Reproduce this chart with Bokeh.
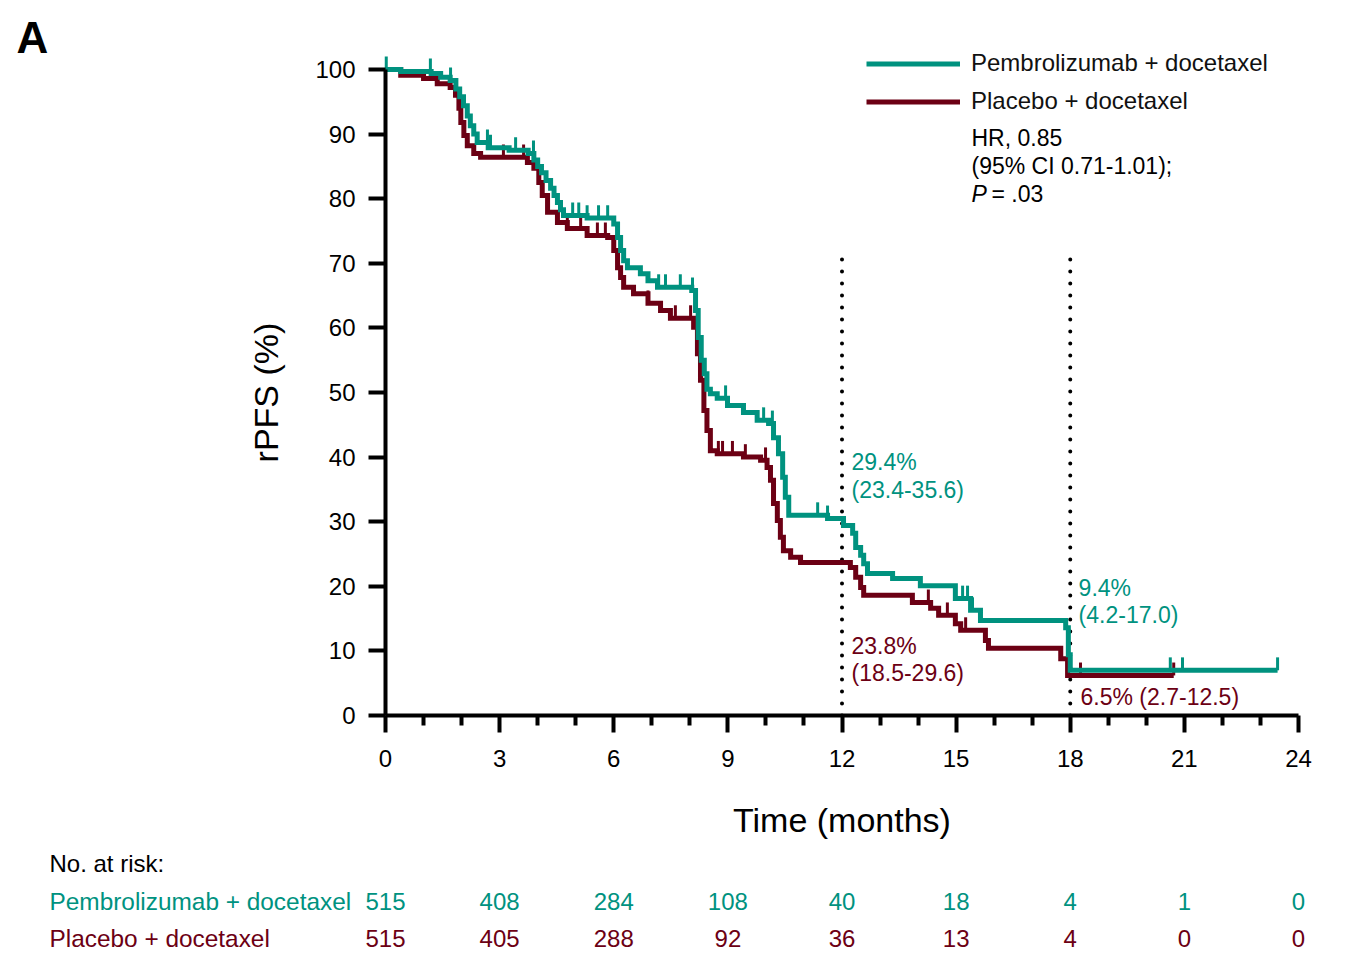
import numpy as np
from bokeh.plotting import figure
from bokeh.models import (FixedTicker, ColumnDataSource, Legend, LegendItem, Range1d)
from bokeh.embed import file_html
from bokeh.resources import INLINE
from bokeh.core.properties import value

TEAL = "#00927F"
MAROON = "#6C0014"

# ---- data ----
pembro_t = [0, 0.4, 1.2, 1.45, 1.7, 1.85, 1.95, 2.05, 2.15, 2.23, 2.32, 2.41, 2.7, 3.25, 3.75,
            3.9, 4.0, 4.1, 4.22, 4.34, 4.43, 4.52, 4.6, 4.68, 5.3, 6.0, 6.1, 6.18, 6.26, 6.36,
            6.7, 6.9, 7.15, 8.05, 8.15, 8.22, 8.3, 8.38, 8.45, 8.54, 8.72, 8.99, 9.41, 9.77, 10.07,
            10.2, 10.33, 10.44, 10.51, 10.6, 11.62, 12.04, 12.28, 12.36, 12.49, 12.57, 12.67, 13.33,
            14.06, 14.98, 15.38, 15.64, 17.88, 17.95, 18.0]
pembro_s = [100, 99.7, 99.4, 98.8, 98.3, 97.0, 95.8, 94.4, 92.8, 91.3, 90.0, 88.7, 87.9, 87.5, 87.0,
            86.0, 85.0, 84.0, 82.8, 81.6, 80.5, 79.4, 78.3, 77.4, 77.0, 76.1, 74.0, 72.0, 70.4, 69.3,
            68.4, 67.3, 66.3, 65.8, 62.7, 58.5, 55.0, 52.9, 50.5, 49.8, 49.1, 48.0, 46.9, 45.7, 45.2,
            43.0, 40.5, 36.9, 33.8, 31.0, 30.5, 29.4, 28.2, 26.0, 24.8, 23.5, 22.0, 21.2,
            20.1, 18.1, 16.3, 14.7, 13.6, 9.4, 7.0]
pembro_end = 23.45
pembro_censor = [0.02, 1.18, 1.71, 2.68, 2.76, 3.42, 3.89, 4.92, 5.08, 5.3, 5.6, 5.84, 7.18, 7.36,
                 7.75, 8.07, 8.94, 9.94, 10.17, 11.36, 11.62, 15.17, 15.3, 15.43, 20.63, 20.95, 23.45]

placebo_t = [0, 0.4, 1.0, 1.36, 1.7, 1.84, 1.93, 1.98, 2.06, 2.15, 2.32, 2.5, 3.73, 3.9, 4.03,
             4.12, 4.26, 4.52, 4.78, 5.3, 5.84, 6.0, 6.1, 6.18, 6.26, 6.52, 6.9, 7.23, 7.49, 8.1,
             8.2, 8.28, 8.37, 8.45, 8.54, 8.72, 9.41, 9.86, 10.03, 10.12, 10.2, 10.3, 10.38, 10.46,
             10.65, 10.91, 12.22, 12.36, 12.49, 12.57, 13.85, 14.33, 14.54, 14.98, 15.12, 15.77,
             15.85, 17.75, 17.93]
placebo_s = [100, 99.1, 98.6, 97.8, 97.2, 96.0, 94.0, 91.8, 89.8, 88.2, 87.0, 86.4, 85.6, 84.7, 82.5,
             80.5, 77.9, 76.3, 75.4, 74.3, 74.0, 72.0, 69.3, 67.8, 66.3, 65.3, 63.8, 62.7, 61.5, 60.1,
             56.0, 51.9, 47.2, 44.1, 41.0, 40.5, 40.0, 39.5, 38.4, 36.4, 32.8, 30.2, 27.6, 25.5,
             24.5, 23.7, 22.9, 21.4, 19.8, 18.6, 17.5, 16.6, 15.5, 14.2, 13.2, 11.6,
             10.4, 8.8, 6.2]
placebo_end = 20.72
placebo_censor = [3.1, 3.63, 4.78, 5.13, 5.57, 5.78, 6.9, 7.62, 8.02, 8.75, 8.86, 9.12, 9.46, 9.99,
                  14.27, 14.77, 15.25, 18.27, 20.72]

x_ticks = [0, 3, 6, 9, 12, 15, 18, 21, 24]
x_minor = [m for m in range(25) if m % 3 != 0]
y_ticks = [0, 10, 20, 30, 40, 50, 60, 70, 80, 90, 100]

risk_times = [0, 3, 6, 9, 12, 15, 18, 21, 24]
risk_pembro = [515, 408, 284, 108, 40, 18, 4, 1, 0]
risk_placebo = [515, 405, 288, 92, 36, 13, 4, 0, 0]

landmarks = [12, 18]
landmark_top = 70.7
censor_len = 2.0

names = ["Pembrolizumab + docetaxel", "Placebo + docetaxel"]

FONT = "Liberation Sans"

# ---- layout geometry (pixels on the canvas) ----
W, H = 1356, 962
X0_PX, X24_PX = 385, 1298      # where 0 and 24 months sit
Y0_PX, Y100_PX = 715, 69       # where 0 % and 100 % sit
sx = (X24_PX - X0_PX) / 24.0
sy = (Y0_PX - Y100_PX) / 100.0


def tx(px):
    return (px - X0_PX) / sx


def ty(py):
    return (Y0_PX - py) / sy


p = figure(width=W, height=H, x_range=Range1d(tx(0), tx(W)), y_range=Range1d(ty(H), ty(0)),
           output_backend="svg", toolbar_location=None,
           min_border_left=0, min_border_right=0, min_border_top=0, min_border_bottom=0)
p.outline_line_color = None
p.xgrid.visible = False
p.ygrid.visible = False
p.background_fill_color = "white"
p.border_fill_color = "white"

# axes
for ax in (p.xaxis[0], p.yaxis[0]):
    ax.fixed_location = 0
    ax.axis_line_width = 4
    ax.axis_line_color = "black"
    ax.major_tick_line_width = 4
    ax.major_tick_line_color = "black"
    ax.major_tick_out = 17
    ax.major_tick_in = 0
    ax.minor_tick_line_width = 4
    ax.minor_tick_line_color = "black"
    ax.minor_tick_out = 10
    ax.minor_tick_in = 0
    ax.major_label_text_font = FONT
    ax.major_label_text_font_size = "24px"
    ax.major_label_text_color = "black"
    ax.axis_label_text_font = FONT
    ax.axis_label_text_font_size = "34px"
    ax.axis_label_text_font_style = "normal"
    ax.axis_label_text_color = "black"

p.xaxis.ticker = FixedTicker(ticks=x_ticks, minor_ticks=x_minor)
p.yaxis.ticker = FixedTicker(ticks=y_ticks)
p.yaxis.minor_tick_line_color = None
p.xaxis.bounds = (0, 24)
p.yaxis.bounds = (0, 100)
p.xaxis.axis_label = "Time (months)"
p.yaxis.axis_label = "rPFS (%)"
p.xaxis.major_label_standoff = 17
p.yaxis.major_label_standoff = 13
p.xaxis.axis_label_standoff = 31
p.yaxis.axis_label_standoff = 27

# landmark dotted lines
p.segment(x0=landmarks, y0=[0] * len(landmarks), x1=landmarks, y1=[landmark_top] * len(landmarks),
          line_color="black", line_width=4, line_dash="0 12", line_cap="round")


def curve(ts, ss, end):
    return list(ts) + [end], list(ss) + [ss[-1]]


def surv_at(ts, ss, c):
    idx = np.searchsorted(np.array(ts), np.array(c), side="right") - 1
    return np.array(ss)[idx]


xs_pl, ys_pl = curve(placebo_t, placebo_s, placebo_end)
xs_pe, ys_pe = curve(pembro_t, pembro_s, pembro_end)

r_pl = p.step(xs_pl, ys_pl, mode="after", line_color=MAROON, line_width=5, line_join="miter")
sp = surv_at(placebo_t, placebo_s, placebo_censor)
p.segment(x0=placebo_censor, y0=sp, x1=placebo_censor, y1=sp + censor_len,
          line_color=MAROON, line_width=3)

r_pe = p.step(xs_pe, ys_pe, mode="after", line_color=TEAL, line_width=5, line_join="miter")
se = surv_at(pembro_t, pembro_s, pembro_censor)
p.segment(x0=pembro_censor, y0=se, x1=pembro_censor, y1=se + censor_len,
          line_color=TEAL, line_width=3)

# legend (location measured from the frame's bottom-left corner)
legend = Legend(items=[LegendItem(label=names[0], renderers=[r_pe]),
                       LegendItem(label=names[1], renderers=[r_pl])],
                location=(866, H - 115), glyph_width=94, glyph_height=27, label_height=27,
                spacing=10, label_standoff=11, padding=0, margin=0,
                border_line_alpha=0, background_fill_alpha=0,
                label_text_font=FONT, label_text_font_size="24px", label_text_color="#111111")
p.add_layout(legend)


def txt(x, y, text, color="black", size="23px", style="normal", align="left"):
    p.text(x=[x], y=[y], text=[text], text_color=color, text_font=value(FONT),
           text_font_size=size, text_font_style=style, text_align=align,
           text_baseline="middle")


# HR text
txt(tx(971), ty(137), "HR, 0.85")
txt(tx(971), ty(165), "(95% CI 0.71-1.01);")
txt(tx(971), ty(193), "P", style="italic")
txt(tx(991), ty(193), "= .03")

# landmark annotations
txt(12.25, ty(461), "29.4%", TEAL)
txt(12.25, ty(489), "(23.4-35.6)", TEAL)
txt(12.25, ty(645), "23.8%", MAROON)
txt(12.25, ty(672), "(18.5-29.6)", MAROON)
txt(18.22, ty(587), "9.4%", TEAL)
txt(18.22, ty(614), "(4.2-17.0)", TEAL)
txt(18.27, ty(696), "6.5% (2.7-12.5)", MAROON)

# panel letter
txt(tx(16), ty(37), "A", size="44px", style="bold")

# risk table
txt(tx(49), ty(863), "No. at risk:", "black", "24px")
txt(tx(49), ty(901), names[0], TEAL, "24.4px")
txt(tx(49), ty(938), names[1], MAROON, "24.4px")

for vals, yrow, col in ((risk_pembro, ty(901), TEAL), (risk_placebo, ty(938), MAROON)):
    src = ColumnDataSource(dict(x=risk_times, y=[yrow] * len(risk_times),
                                text=[str(v) for v in vals]))
    p.text(x="x", y="y", text="text", source=src, text_align="center",
           text_baseline="middle", text_color=col, text_font=value(FONT),
           text_font_size="24px")

open("out.html", "w").write(file_html(p, INLINE))
